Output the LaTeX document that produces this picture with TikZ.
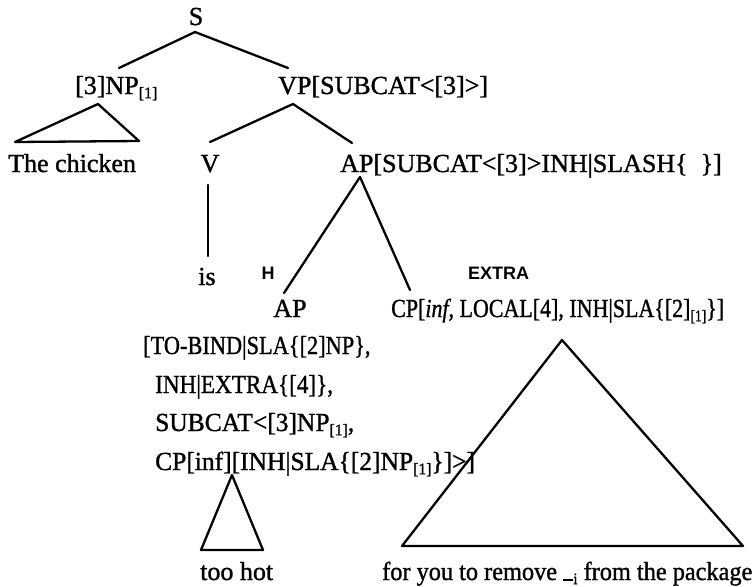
\documentclass[tikz,border=0pt]{standalone}
\usepackage{graphicx}
\usepackage{fontspec}
\setmainfont{Liberation Serif}[UprightFeatures={FakeBold=1.2}, ItalicFeatures={FakeBold=1.2}]
\setsansfont{Liberation Sans}
% small lowered index such as [1]
\newcommand\subl[1]{\raisebox{-0.35ex}{\fontsize{16}{16}\selectfont #1}}
% horizontally condensed label text
\newcommand\cond[2]{\scalebox{#1}[1]{#2}}
\begin{document}
\begin{tikzpicture}[x=1pt,y=-1pt,
  lbl/.style={inner sep=0pt, anchor=base west, font=\fontsize{26}{30}\selectfont},
  lblc/.style={lbl, anchor=base},
  tag/.style={inner sep=0pt, anchor=base, font=\fontsize{18}{18}\selectfont\sffamily\bfseries},
  edge/.style={line width=2.3pt, line cap=round, line join=round}]
\useasboundingbox (0,0) rectangle (756,587);

% category labels
\node[lblc] (S) at (196,25) {S};
\node[lbl] (NP) at (75,94) {[3]NP\subl{[1]}};
\node[lbl] (VP) at (278,94) {VP[SUBCAT<[3]>]};
\node[lbl] (chicken) at (8,172) {The chicken};
\node[lblc] (V) at (210,172) {V};
\node[lbl] (AP) at (340,172) {AP[SUBCAT<[3]>INH|SLASH\{\ \ \}]};
\node[lblc] (is) at (207,285) {is};
\node[tag] (H) at (268,279) {H};
\node[tag, anchor=base west] (extra) at (468,279) {EXTRA};
\node[lblc] (APh) at (290,317) {AP};
\node[lbl] (CP) at (391,317) {\cond{0.845}{CP[\textit{inf}, LOCAL[4], INH|SLA\{[2]\subl{[1]}\}]}};

% feature structure of the head AP
\node[lbl] (f1) at (143,354) {\cond{0.86}{[TO-BIND|SLA\{[2]NP\},}};
\node[lbl] (f2) at (155,393) {\cond{0.89}{INH|EXTRA\{[4]\},}};
\node[lbl] (f3) at (155,431) {\cond{0.98}{SUBCAT<[3]NP\subl{[1]},}};
\node[lbl] (f4) at (155,470) {\cond{0.98}{CP[inf][INH|SLA\{[2]NP\subl{[1]}\}]>]}};

% terminal strings
\node[lbl] (toohot) at (200,580) {too hot};
\node[lbl] (foryou) at (382,580) {\cond{0.935}{for you to remove \rule[-1pt]{11pt}{2pt}\subl{i} from the package}};

% attachment points of the branches
\coordinate (sDn) at (195,32);
\coordinate (npUp) at (119,68);
\coordinate (vpUp) at (288,68);
\coordinate (npDn) at (98,104);
\coordinate (chL) at (15,142);
\coordinate (chR) at (139,141);
\coordinate (vpDn) at (293,104);
\coordinate (vUp) at (210,142);
\coordinate (apUp) at (352,143);
\coordinate (vDn) at (208,185);
\coordinate (isUp) at (208,256);
\coordinate (apDn) at (360,177);
\coordinate (aphUp) at (284,293);
\coordinate (cpUp) at (410,290);
\coordinate (f4Dn) at (232,475);
\coordinate (thL) at (201,550);
\coordinate (thR) at (263,550);
\coordinate (cpDn) at (562,340);
\coordinate (fyL) at (402,546);
\coordinate (fyR) at (743,546);

% branches
\draw[edge] (sDn) -- (npUp);
\draw[edge] (sDn) -- (vpUp);
\draw[edge] (npDn) -- (chL) -- (chR) -- cycle;
\draw[edge] (vpDn) -- (vUp);
\draw[edge] (vpDn) -- (apUp);
\draw[edge] (vDn) -- (isUp);
\draw[edge] (apDn) -- (aphUp);
\draw[edge] (apDn) -- (cpUp);
\draw[edge] (f4Dn) -- (thL) -- (thR) -- cycle;
\draw[edge] (cpDn) -- (fyL) -- (fyR) -- cycle;
\end{tikzpicture}
\end{document}
